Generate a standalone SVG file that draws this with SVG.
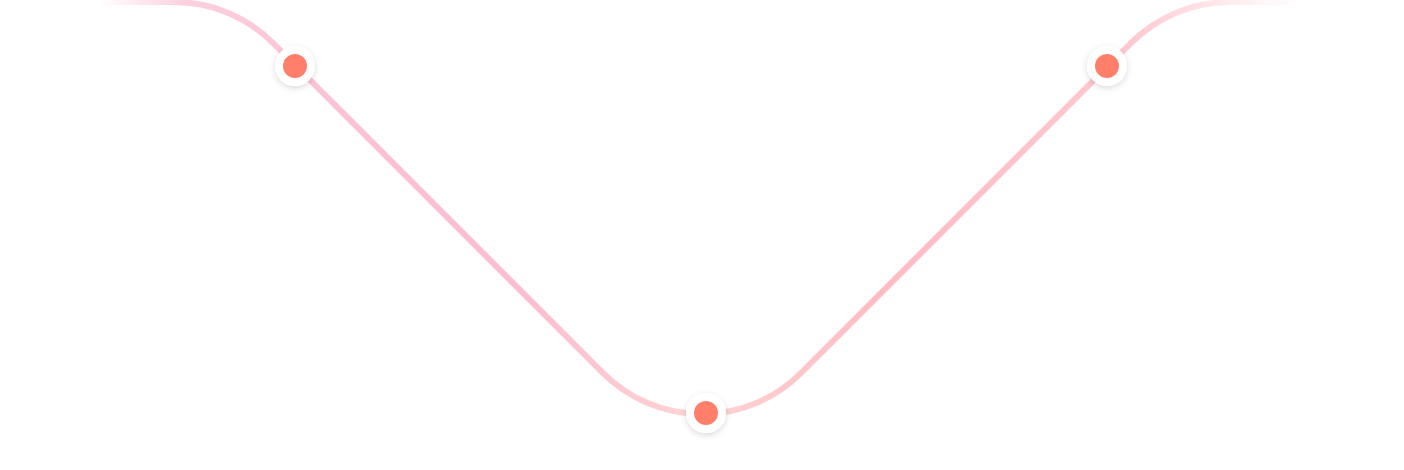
<svg xmlns="http://www.w3.org/2000/svg" width="1404" height="470" viewBox="0 0 1404 470">
  <defs>
    <linearGradient id="lineGrad" gradientUnits="userSpaceOnUse" x1="100" y1="0" x2="1300" y2="0">
      <stop offset="0" stop-color="#fbc8d8" stop-opacity="0"/>
      <stop offset="0.07" stop-color="#fbc8d8" stop-opacity="0.85"/>
      <stop offset="0.2" stop-color="#fbc2d4"/>
      <stop offset="0.35" stop-color="#fbbdd0"/>
      <stop offset="0.5" stop-color="#ffd4d4"/>
      <stop offset="0.65" stop-color="#ffbcc3"/>
      <stop offset="0.86" stop-color="#ffc8d0"/>
      <stop offset="1" stop-color="#ffd6dd" stop-opacity="0"/>
    </linearGradient>
    <filter id="shadow" x="-50%" y="-50%" width="200%" height="200%">
      <feDropShadow dx="0" dy="2" stdDeviation="3" flood-color="#000" flood-opacity="0.15"/>
    </filter>
  </defs>
  <style>
    .halo { fill: #ffffff; filter: url(#shadow); }
    .dot { fill: #ff7f6a; }
  </style>
  <rect width="1404" height="470" fill="#ffffff"/>
  <g id="connectors">
    <path d="M 100 2 H 174 A 140 140 0 0 1 273 43 L 603 373 A 140 140 0 0 0 801 373 L 1131 43 A 140 140 0 0 1 1230 2 H 1300" fill="none" stroke="url(#lineGrad)" stroke-width="6"/>
  </g>
  <g id="node-left">
    <circle class="halo" cx="295" cy="66" r="20"/>
    <circle class="dot" cx="295" cy="66" r="12"/>
  </g>
  <g id="node-bottom">
    <circle class="halo" cx="706" cy="413" r="20"/>
    <circle class="dot" cx="706" cy="413" r="12"/>
  </g>
  <g id="node-right">
    <circle class="halo" cx="1107" cy="66" r="20"/>
    <circle class="dot" cx="1107" cy="66" r="12"/>
  </g>
</svg>
